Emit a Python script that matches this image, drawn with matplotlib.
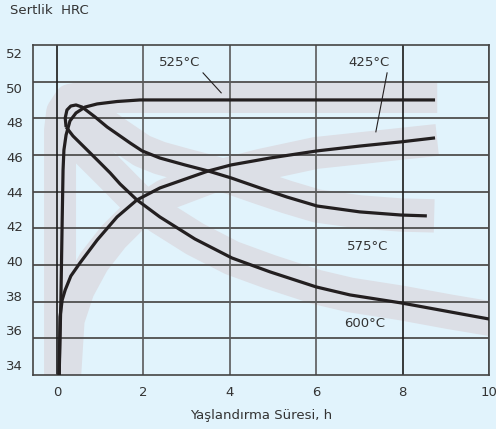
import numpy as np
import matplotlib.pyplot as plt

# hardness (HRC) vs ageing time (h)
t_525 = [0.05, 0.09, 0.12, 0.14, 0.16, 0.21, 0.30, 0.44, 0.65, 0.93, 1.39, 1.92, 8.75]
h_525 = [33.4, 37.75, 42.37, 45.25, 46.40, 47.27, 48.08, 48.54, 48.88, 49.06, 49.20, 49.29, 49.29]

t_425 = [0.05, 0.07, 0.12, 0.19, 0.32, 0.53, 0.93, 1.39, 1.85, 2.38, 3.50, 4.03, 4.93, 6.02, 7.01, 7.96, 8.75]
h_425 = [33.4, 36.77, 37.75, 38.33, 39.13, 39.88, 41.21, 42.54, 43.52, 44.21, 45.19, 45.54, 45.94, 46.35, 46.63, 46.87, 47.10]

t_575 = [0.21, 0.19, 0.23, 0.32, 0.44, 0.58, 0.88, 1.16, 1.46, 1.69, 1.97, 2.38, 2.96, 3.50, 4.03, 4.70, 5.32, 6.02, 7.01, 7.96, 8.56]
h_575 = [47.73, 48.25, 48.71, 48.94, 49.00, 48.88, 48.31, 47.73, 47.21, 46.81, 46.35, 45.94, 45.54, 45.19, 44.79, 44.21, 43.69, 43.17, 42.83, 42.65, 42.60]

t_600 = [0.21, 0.37, 0.65, 0.93, 1.23, 1.46, 1.85, 2.38, 3.19, 4.05, 4.93, 6.00, 6.78, 7.96, 9.10, 10.0]
h_600 = [47.73, 47.21, 46.52, 45.83, 45.08, 44.44, 43.52, 42.54, 41.27, 40.17, 39.37, 38.50, 38.04, 37.58, 37.06, 36.65]

# scatter bands (grey envelopes) around each curve
band_525_t = [0.07, 0.07, 0.12, 0.30, 0.65, 8.80]
band_525_h = [33.0, 47.56, 48.60, 49.29, 49.46, 49.46]
band_425_t = [0.18, 0.27, 0.50, 0.85, 1.30, 1.86, 2.50, 3.54, 4.70, 5.99, 8.80]
band_425_h = [33.0, 36.6, 38.33, 39.94, 41.38, 42.77, 43.81, 44.79, 45.54, 46.23, 46.98]
band_575_t = [0.30, 0.58, 0.88, 1.16, 1.46, 1.97, 2.38, 2.96, 3.50, 4.03, 4.70, 5.32, 6.02, 7.01, 7.96, 8.73]
band_575_h = [48.94, 48.88, 48.31, 47.73, 47.21, 46.35, 45.94, 45.54, 45.19, 44.79, 44.21, 43.69, 43.17, 42.83, 42.65, 42.60]
band_600_t = [0.21, 0.65, 1.23, 1.85, 2.38, 3.19, 4.05, 4.93, 6.00, 6.78, 7.96, 9.10, 10.2]
band_600_h = [47.73, 46.52, 45.08, 43.52, 42.54, 41.27, 40.17, 39.37, 38.50, 38.04, 37.58, 37.06, 36.60]

x_ticks = [0, 2, 4, 6, 8, 10]
y_ticks = [34, 36, 38, 40, 42, 44, 46, 48, 50, 52]

bg = '#e1f3fc'
band_col = '#dcdfe6'
ink = '#231f20'
txt = '#333333'

fig = plt.figure(figsize=(4.96, 4.29), dpi=100, facecolor=bg)
ax = fig.add_axes([0.0665, 0.1259, 0.9195, 0.7692])
ax.set_facecolor(bg)

ylo, yhi = 33.42, 52.46
ax.set_xlim(-0.556, 10)
ax.set_ylim(ylo, yhi)

# bands
for bt, bh, w in [(band_525_t, band_525_h, 23), (band_425_t, band_425_h, 23),
                  (band_575_t, band_575_h, 24), (band_600_t, band_600_h, 25)]:
    ax.plot(bt, bh, color=band_col, lw=w, solid_capstyle='butt',
            solid_joinstyle='round', zorder=1)

# grid
for k in range(1, 9):
    ax.axhline(ylo + k * (yhi - ylo) / 9, color='#5a5a5a', lw=1.4, zorder=2)
for xv in x_ticks:
    c = '#1a1a1a' if xv in (0, 8) else '#5a5a5a'
    ax.axvline(xv, color=c, lw=1.2, zorder=2)

# curves
for tt, hh in [(t_525, h_525), (t_425, h_425), (t_575, h_575), (t_600, h_600)]:
    ax.plot(tt, hh, color=ink, lw=2.3, solid_capstyle='butt',
            solid_joinstyle='round', zorder=3)

# labels
fs = 9.5
ax.text(2.84, 51.45, '525°C', fontsize=fs, color=txt, ha='center', va='center')
ax.plot([3.38, 3.80], [50.85, 49.70], color=ink, lw=0.8, zorder=4)
ax.text(7.22, 51.45, '425°C', fontsize=fs, color=txt, ha='center', va='center')
ax.plot([7.64, 7.38], [50.85, 47.45], color=ink, lw=0.8, zorder=4)
ax.text(7.20, 40.85, '575°C', fontsize=fs, color=txt, ha='center', va='center')
ax.text(7.13, 36.40, '600°C', fontsize=fs, color=txt, ha='center', va='center')

ax.set_xticks(x_ticks)
ax.set_yticks(y_ticks)
ax.tick_params(length=0, labelsize=fs, labelcolor=txt)
ax.tick_params(axis='y', pad=7)
ax.tick_params(axis='x', pad=8)
for s in ax.spines.values():
    s.set_color('#444444')
    s.set_linewidth(1.2)

ax.set_xlabel('Yaşlandırma Süresi, h', fontsize=fs, color=txt, labelpad=7)
fig.text(0.02, 0.975, 'Sertlik  HRC', fontsize=fs, color=txt, ha='left', va='center')

fig.savefig('out.png', dpi=100, facecolor=bg)
